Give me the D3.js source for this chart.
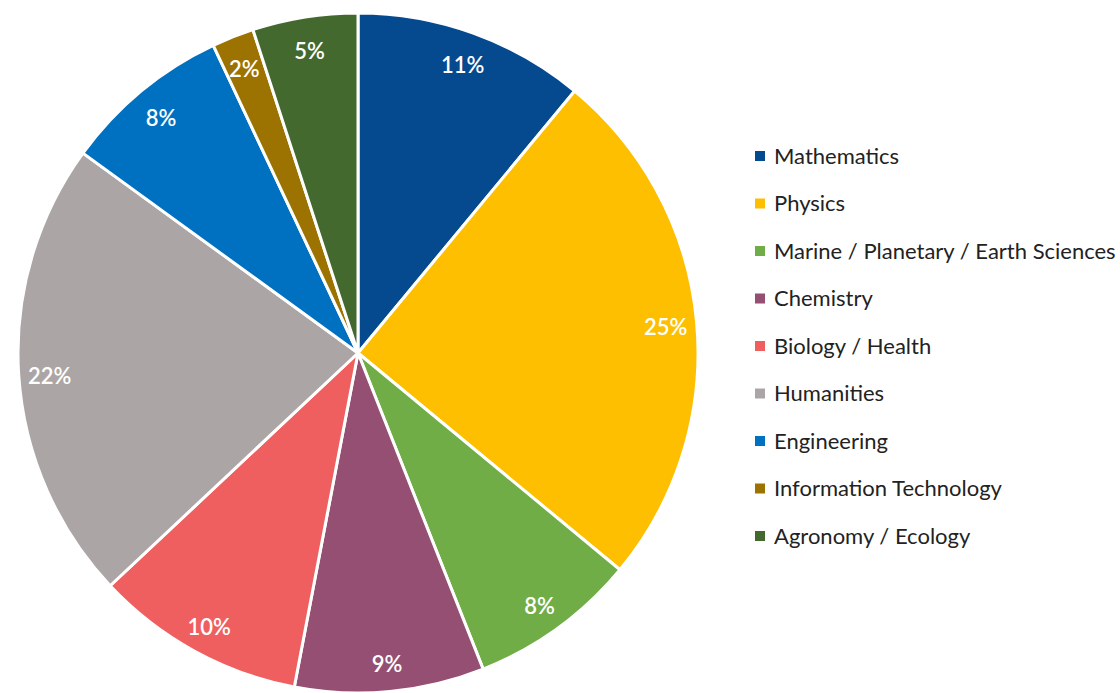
<!DOCTYPE html>
<html lang="en">
<head>
<meta charset="utf-8">
<title>Pie</title>
<style>
  body { margin: 0; background: #fff; }
  svg { display: block; }
</style>
</head>
<body>
<svg width="1120" height="693"></svg>
<script src="https://d3js.org/d3.v7.min.js"></script>
<script>
var categories = ["Mathematics", "Physics", "Marine / Planetary / Earth Sciences", "Chemistry",
  "Biology / Health", "Humanities", "Engineering", "Information Technology", "Agronomy / Ecology"];
var shares = [11, 25, 8, 9, 10, 22, 8, 2, 5];
var colors = ["#05498f", "#fdbf00", "#70ad47", "#954f72", "#f05f5f", "#aba6a5", "#0070c0", "#9c7300", "#44692e"];

var svg = d3.select("svg"),
    cx = 358, cy = 353, radius = 340;

var data = categories.map(function(c, i) { return {name: c, value: shares[i], color: colors[i]}; });

var pie = d3.pie().sort(null).value(function(d) { return d.value; });
var arc = d3.arc().innerRadius(0).outerRadius(radius);
var labelArc = d3.arc().innerRadius(309).outerRadius(309);

var g = svg.append("g").attr("transform", "translate(" + cx + "," + cy + ")");

var arcs = pie(data);

g.selectAll("path")
  .data(arcs)
  .enter().append("path")
    .attr("d", arc)
    .attr("fill", function(d) { return d.data.color; })
    .attr("stroke", "#fff")
    .attr("stroke-width", 3)
    .attr("stroke-linejoin", "round");

g.selectAll("text")
  .data(arcs)
  .enter().append("text")
    .attr("transform", function(d) {
      var c = labelArc.centroid(d);
      return "translate(" + c[0] + "," + (c[1] + 3.5) + ")";
    })
    .attr("text-anchor", "middle")
    .attr("dy", "0.35em")
    .attr("fill", "#fff")
    .attr("font-family", "Lato, 'Open Sans', sans-serif")
    .attr("font-weight", 600)
    .attr("font-size", 22)
    .text(function(d) { return d.data.value + "%"; });

var legend = svg.append("g").attr("transform", "translate(755,156)");

var row = legend.selectAll("g")
  .data(data)
  .enter().append("g")
    .attr("transform", function(d, i) { return "translate(0," + (i * 47.5) + ")"; });

row.append("rect")
    .attr("x", 0)
    .attr("y", -5)
    .attr("width", 10)
    .attr("height", 10)
    .attr("fill", function(d) { return d.color; });

row.append("text")
    .attr("x", 19)
    .attr("dy", "0.35em")
    .attr("fill", "#222")
    .attr("font-family", "Lato, 'Open Sans', sans-serif")
    .attr("font-size", 22)
    .text(function(d) { return d.name; });
</script>
</body>
</html>
